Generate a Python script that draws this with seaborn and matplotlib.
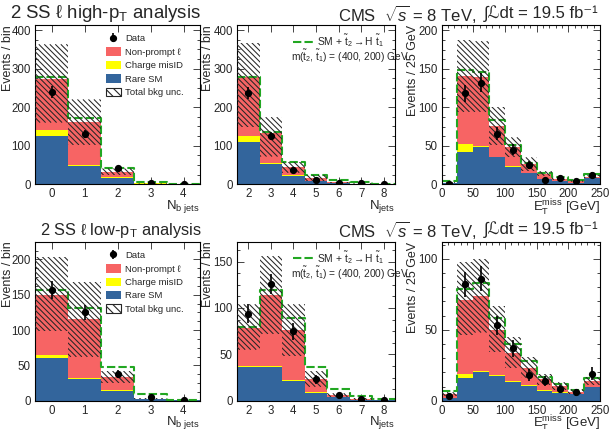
import numpy as np
import pandas as pd
import matplotlib
matplotlib.use("Agg")
import matplotlib.pyplot as plt
import seaborn as sns
from matplotlib.patches import Patch, Rectangle
from matplotlib.lines import Line2D
from matplotlib.collections import LineCollection
from matplotlib.transforms import IdentityTransform
from matplotlib.ticker import MultipleLocator

sns.set_style("ticks")
plt.rcParams["font.family"] = ["Liberation Sans", "DejaVu Sans"]
plt.rcParams["mathtext.fontset"] = "custom"
plt.rcParams["mathtext.rm"] = "Liberation Sans"
plt.rcParams["mathtext.it"] = "Liberation Sans:italic"
plt.rcParams["mathtext.bf"] = "Liberation Sans:bold"
plt.rcParams["hatch.linewidth"] = 0.8

# ---------------- data ----------------
nb_edges = [-0.5, 0.5, 1.5, 2.5, 3.5, 4.5]
nb_ticks = [0, 1, 2, 3, 4]
nj_edges = [1.5, 2.5, 3.5, 4.5, 5.5, 6.5, 7.5, 8.5]
nj_ticks = [2, 3, 4, 5, 6, 7, 8]
met_edges = [0, 25, 50, 75, 100, 125, 150, 175, 200, 225, 250]
met_ticks = [0, 50, 100, 150, 200, 250]

# high-pT, N b jets
hi_nb_rare = [125, 47, 17, 2, 0.5]
hi_nb_misid = [16, 3, 1, 0.2, 0.1]
hi_nb_nonprompt = [133, 112, 15, 0.8, 0.4]
hi_nb_unc_lo = [160, 102, 24, 2, 0.5]
hi_nb_unc_hi = [363, 220, 41, 4, 1.5]
hi_nb_signal = [279, 173, 43, 7, 1.5]
hi_nb_data = [240, 130, 42, 4, 1]
hi_nb_err = [15, 11, 6.5, 2, 1]

# high-pT, N jets
hi_nj_rare = [109, 52, 22, 8.5, 3, 1, 0.3]
hi_nj_misid = [16, 2, 1, 0.5, 0.2, 0.1, 0.05]
hi_nj_nonprompt = [152, 78, 23, 6.5, 1.8, 0.9, 0.35]
hi_nj_unc_lo = [148, 72, 30, 8, 3, 1, 0.4]
hi_nj_unc_hi = [367, 174, 58, 24, 7, 3, 1]
hi_nj_signal = [278, 136, 58, 24, 12, 5, 2]
hi_nj_data = [237, 125, 37, 11, 3, 3, 1]
hi_nj_err = [15, 11, 6, 3.3, 1.7, 1.7, 1]

# high-pT, MET
hi_met_rare = [1.5, 42, 48, 35, 23, 15, 6.5, 4.3, 2, 7.8]
hi_met_misid = [0.1, 11, 2, 1, 0.5, 0.3, 0.2, 0.1, 0.1, 0.2]
hi_met_nonprompt = [0.6, 88, 90, 40, 24.5, 10.7, 7.3, 3.1, 2.2, 2.0]
hi_met_unc_lo = [1.6, 94, 94, 51, 35, 17, 11, 6, 3.5, 8]
hi_met_unc_hi = [2.8, 188, 186, 101, 61, 35, 17, 9, 5, 12]
hi_met_signal = [4, 148, 146, 83, 51, 28, 15, 9, 5, 13]
hi_met_data = [1, 118, 132, 66, 45, 25, 5, 8, 4, 12]
hi_met_err = [1, 11, 12, 8, 7, 5, 2.2, 2.8, 2, 3.5]

# low-pT, N b jets
lo_nb_rare = [60, 30.5, 14, 2, 0.5]
lo_nb_misid = [4.5, 1.5, 0.5, 0.1, 0.05]
lo_nb_nonprompt = [85.5, 84, 19.5, 0.9, 0.45]
lo_nb_unc_lo = [98, 62, 25, 2, 0.6]
lo_nb_unc_hi = [204, 168, 42, 4, 1.3]
lo_nb_signal = [157, 131, 48, 9, 1.5]
lo_nb_data = [157, 125, 38, 5, 0.3]
lo_nb_err = [13, 11, 6, 2.2, 0.5]

# low-pT, N jets
lo_nj_rare = [36, 36, 21.6, 8.5, 3.5, 1, 0.3]
lo_nj_misid = [1.5, 1.5, 0.7, 0.5, 0.2, 0.1, 0.05]
lo_nj_nonprompt = [40.5, 76.5, 53.7, 14.5, 2.3, 0.9, 0.35]
lo_nj_unc_lo = [55, 72, 48, 15, 4, 1, 0.4]
lo_nj_unc_hi = [104, 156, 104, 32, 8, 3, 1]
lo_nj_signal = [79, 119, 89, 36, 13, 5, 1.5]
lo_nj_data = [94, 126, 75, 23, 6, 2, 0.5]
lo_nj_err = [10, 11, 9, 5, 2.5, 1.4, 0.7]

# low-pT, MET
lo_met_rare = [1.7, 15.8, 20.5, 17.6, 13.4, 10.6, 7, 5.6, 4.7, 9.4]
lo_met_misid = [0.2, 2.7, 0.5, 0.5, 0.4, 0.3, 0.2, 0.2, 0.1, 0.2]
lo_met_nonprompt = [2.6, 52.5, 52.7, 31.7, 19.6, 12.3, 7.8, 4.5, 1.5, 4.4]
lo_met_unc_lo = [3, 46, 48, 34, 23, 16, 11, 7.5, 4.6, 11]
lo_met_unc_hi = [6, 98, 100, 67, 45, 31, 19, 13, 8, 17]
lo_met_signal = [6.8, 79, 83, 58, 39.7, 28, 16.4, 11.5, 7.5, 15.7]
lo_met_data = [3, 82, 86, 53, 37, 18, 14, 8, 6, 19]
lo_met_err = [1.7, 9, 9, 7, 6, 4, 3.7, 2.8, 2.4, 4.4]

processes = ["Non-prompt \u2113", "Charge misID", "Rare SM"]
colors = {"Non-prompt \u2113": "#F76464", "Charge misID": "#FFFF00", "Rare SM": "#33659C"}
green = "#22A722"
hatch_col = "#262626"

# ---------------- figure ----------------
fig = plt.figure(figsize=(6.12, 4.29), dpi=100)

cols_x = [(35, 200), (237, 395), (441.5, 600)]
rows_y = [(25, 184.3), (241.7, 400.7)]
W, H = 612.0, 429.0


def make_ax(r, c):
    x0, x1 = cols_x[c]
    y0, y1 = rows_y[r]
    return fig.add_axes([x0 / W, 1 - y1 / H, (x1 - x0) / W, (y1 - y0) / H])


def draw_panel(ax, edges, rare, misid, nonprompt, ulo, uhi, signal, data, err):
    edges = [float(e) for e in edges]
    e_arr = np.asarray(edges)
    centers = 0.5 * (e_arr[1:] + e_arr[:-1])
    df = pd.concat([
        pd.DataFrame({"x": centers, "w": nonprompt, "proc": processes[0]}),
        pd.DataFrame({"x": centers, "w": misid, "proc": processes[1]}),
        pd.DataFrame({"x": centers, "w": rare, "proc": processes[2]}),
    ], ignore_index=True)
    sns.histplot(data=df, x="x", weights="w", hue="proc", hue_order=processes,
                 multiple="stack", bins=edges, element="bars", fill=True,
                 palette=colors, alpha=1, linewidth=0, legend=False, ax=ax)
    for p in ax.patches:
        p.set_zorder(1)
    sig_df = pd.DataFrame({"x": centers, "w": signal})
    sns.histplot(data=sig_df, x="x", weights="w", bins=edges, element="step", fill=False,
                 color=green, linewidth=1.5, linestyle=(0, (4, 1.5)), ax=ax)
    for ln in ax.lines:
        ln.set_zorder(2)
    eb = ax.errorbar(centers, data, yerr=err, fmt="o", color="black", ms=4.2,
                     elinewidth=1.2, capsize=0, zorder=5)
    ax.set_xlim(edges[0], edges[-1])
    ax.set_ylabel("")
    ax.set_xlabel("")
    for s in ax.spines.values():
        s.set_linewidth(0.8)
        s.set_color("black")
    ax.tick_params(which="both", direction="in", top=True, right=True,
                   labelsize=8.3, width=0.6, pad=3)
    ax.tick_params(which="major", length=5)
    ax.tick_params(which="minor", length=2.5)
    return eb


def add_unc_band(ax, edges, ulo, uhi, spacing=5.5):
    """Hatched total-background uncertainty band: '\\' lines clipped to each bin's band."""
    for xl, xr, lo, hi in zip(edges[:-1], edges[1:], ulo, uhi):
        rect = Rectangle((xl, lo), xr - xl, hi - lo, facecolor="none",
                         edgecolor="none", linewidth=0)
        ax.add_patch(rect)
        (px0, py0) = ax.transData.transform((xl, lo))
        (px1, py1) = ax.transData.transform((xr, hi))
        cmin = np.floor((px0 + py0) / spacing) * spacing
        cs = np.arange(cmin, px1 + py1 + spacing, spacing)
        segs = [[(c - py1, py1), (c - py0, py0)] for c in cs]
        lc = LineCollection(segs, colors=hatch_col, linewidths=0.75,
                            transform=IdentityTransform(), zorder=3)
        ax.add_collection(lc, autolim=False)
        lc.set_clip_path(rect)


panels = [
    (0, 0, nb_edges, hi_nb_rare, hi_nb_misid, hi_nb_nonprompt, hi_nb_unc_lo, hi_nb_unc_hi, hi_nb_signal, hi_nb_data, hi_nb_err),
    (0, 1, nj_edges, hi_nj_rare, hi_nj_misid, hi_nj_nonprompt, hi_nj_unc_lo, hi_nj_unc_hi, hi_nj_signal, hi_nj_data, hi_nj_err),
    (0, 2, met_edges, hi_met_rare, hi_met_misid, hi_met_nonprompt, hi_met_unc_lo, hi_met_unc_hi, hi_met_signal, hi_met_data, hi_met_err),
    (1, 0, nb_edges, lo_nb_rare, lo_nb_misid, lo_nb_nonprompt, lo_nb_unc_lo, lo_nb_unc_hi, lo_nb_signal, lo_nb_data, lo_nb_err),
    (1, 1, nj_edges, lo_nj_rare, lo_nj_misid, lo_nj_nonprompt, lo_nj_unc_lo, lo_nj_unc_hi, lo_nj_signal, lo_nj_data, lo_nj_err),
    (1, 2, met_edges, lo_met_rare, lo_met_misid, lo_met_nonprompt, lo_met_unc_lo, lo_met_unc_hi, lo_met_signal, lo_met_data, lo_met_err),
]

ylims = {(0, 0): 413, (0, 1): 413, (0, 2): 207, (1, 0): 225, (1, 1): 171.5, (1, 2): 112}
ymajor = {(0, 0): 100, (0, 1): 100, (0, 2): 50, (1, 0): 50, (1, 1): 50, (1, 2): 50}
yminor = {(0, 0): 25, (0, 1): 25, (0, 2): 12.5, (1, 0): 12.5, (1, 1): 12.5, (1, 2): 10}
xlabels = [r"N$_{\mathrm{b\ jets}}$", r"N$_{\mathrm{jets}}$", r"E$_{\mathrm{T}}^{\mathrm{miss}}$ [GeV]"]
ylabels = ["Events / bin", "Events / bin", "Events / 25 GeV"]
xticks = [nb_ticks, nj_ticks, met_ticks]

for (r, c, edges, rare, misid, nonprompt, ulo, uhi, signal, data, err) in panels:
    ax = make_ax(r, c)
    eb = draw_panel(ax, edges, rare, misid, nonprompt, ulo, uhi, signal, data, err)
    ax.set_xlim(edges[0], edges[-1])
    ax.set_ylim(0, ylims[(r, c)])
    add_unc_band(ax, edges, ulo, uhi)
    ax.yaxis.set_major_locator(MultipleLocator(ymajor[(r, c)]))
    ax.yaxis.set_minor_locator(MultipleLocator(yminor[(r, c)]))
    ax.set_xticks(xticks[c])
    if c == 2:
        ax.xaxis.set_minor_locator(MultipleLocator(10))
    ax.set_ylabel(ylabels[c], fontsize=9, loc="top")
    ax.yaxis.set_label_coords(-0.145 if c else -0.13, 1.0)
    ax.set_xlabel(xlabels[c], fontsize=9.5, loc="right", labelpad=-2.0)

    if c == 0:
        handles = [eb,
                   Patch(facecolor=colors[processes[0]], edgecolor="none"),
                   Patch(facecolor=colors[processes[1]], edgecolor="none"),
                   Patch(facecolor=colors[processes[2]], edgecolor="none"),
                   Patch(facecolor="white", edgecolor=hatch_col, hatch="\\\\\\\\", linewidth=0.8)]
        labels = ["Data"] + processes + ["Total bkg unc."]
        leg = ax.legend(handles, labels, loc="upper left", bbox_to_anchor=(0.39, 0.985),
                        frameon=False, fontsize=6.8, handlelength=1.55, handleheight=1.0,
                        labelspacing=0.42, handletextpad=0.45, borderpad=0.2)
        leg.set_zorder(10)
    if c == 1:
        h = Line2D([], [], color=green, linewidth=1.5, linestyle=(0, (4, 1.5)))
        leg = ax.legend([h], [r"SM + $\tilde{\mathrm{t}}_{2}\rightarrow\mathrm{H}\ \tilde{\mathrm{t}}_{1}$"],
                        loc="upper left", bbox_to_anchor=(0.31, 1.0), frameon=False,
                        fontsize=7.4, handlelength=1.9, handletextpad=0.4, borderpad=0.2)
        leg.set_zorder(10)
        ax.text(0.34, 0.8, r"m($\tilde{\mathrm{t}}_{2}$, $\tilde{\mathrm{t}}_{1}$) = (400, 200) GeV",
                transform=ax.transAxes, fontsize=7.3, ha="left", va="center", zorder=10)

# titles
fig.text(10 / W, 1 - 14 / H, "2 SS \u2113 high-p$_{\\mathrm{T}}$ analysis", fontsize=13.4, ha="left", va="center")
fig.text(40 / W, 1 - 230 / H, "2 SS \u2113 low-p$_{\\mathrm{T}}$ analysis", fontsize=11.8, ha="left", va="center")

renderer = fig.canvas.get_renderer()
for ypix in (14, 230):
    t2 = fig.text(598 / W, 1 - ypix / H, "\u222B\u2112dt = 19.5 fb\u207B\u00B9",
                  fontsize=12.0, ha="right", va="center",
                  family=["Liberation Sans", "DejaVu Sans"])
    bb = t2.get_window_extent(renderer=renderer)
    fig.text((bb.x0 - 7) / W, 1 - ypix / H, r"CMS  $\sqrt{s}$ = 8 TeV,",
             fontsize=12.0, ha="right", va="center")

fig.savefig("out.png", dpi=100)
